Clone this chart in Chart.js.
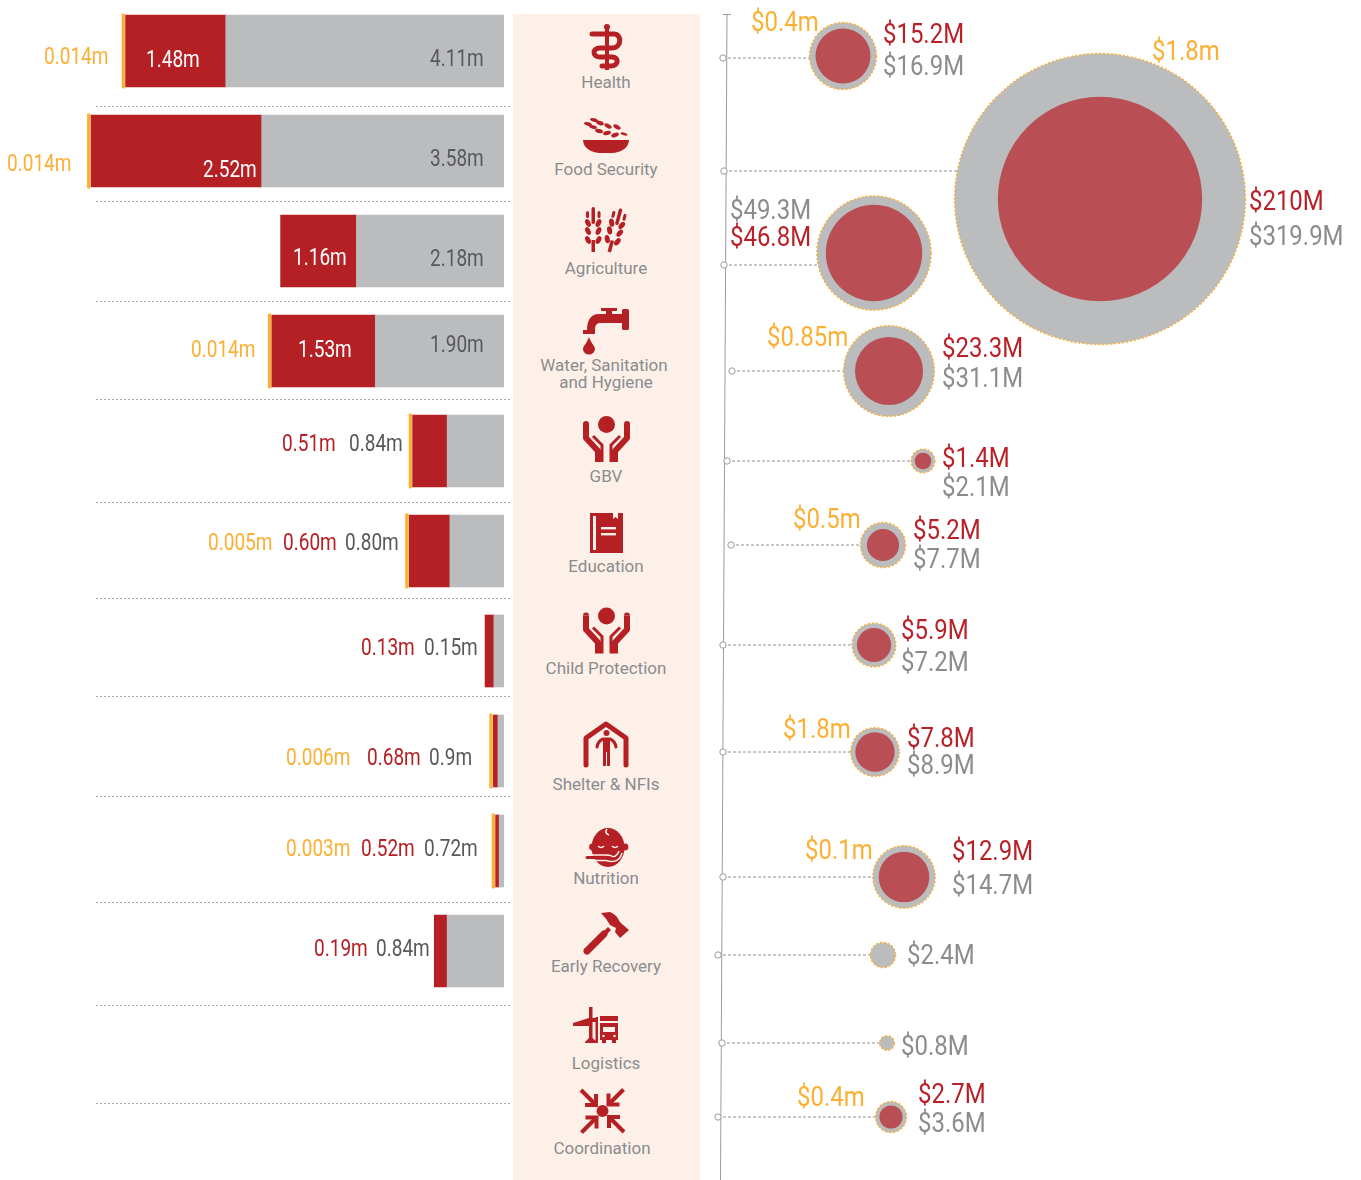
<!DOCTYPE html>
<html lang="en">
<head>
<meta charset="UTF-8">
<title>Sector funding and people reached</title>
<style>
    html, body { margin: 0; padding: 0; background: #fff; overflow: hidden; }
    #page { position: relative; width: 1361px; height: 1180px; }
    #page canvas { position: absolute; left: 0; top: 0; }
    #panel { position: absolute; left: 0; top: 0; }
    #panel text { font-family: Roboto, sans-serif; font-size: 17px; fill: #8a8c8e; text-anchor: middle; }
</style>
</head>
<body>
<div id="page">
    <svg id="panel" width="1361" height="1180" viewBox="0 0 1361 1180">
        <rect x="513" y="14" width="187" height="1166" fill="#fdf0e9"/>
        <defs>
            <g id="hands">
                <path d="M586 424V438L598 451V462" fill="none" stroke="#b52025" stroke-width="6" stroke-linejoin="round"/>
                <path d="M593 436L602 445V462" fill="none" stroke="#b52025" stroke-width="3"/>
                <path d="M586 421a3 3 0 0 1 3 3h-6a3 3 0 0 1 3-3z" fill="#b52025"/>
            </g>
            <g id="wheat" fill="#b52025">
                <rect x="591.5" y="207" width="3.5" height="17" rx="1.7"/>
                <rect x="591.5" y="240" width="3.5" height="12"/>
                <rect x="586" y="211" width="3" height="7" rx="1.5"/>
                <rect x="597.5" y="211" width="3" height="7" rx="1.5"/>
                <ellipse cx="588" cy="223" rx="2.5" ry="4.2" transform="rotate(-25 588 223)"/>
                <ellipse cx="598.5" cy="223" rx="2.5" ry="4.2" transform="rotate(25 598.5 223)"/>
                <ellipse cx="588" cy="231" rx="2.5" ry="4.2" transform="rotate(-25 588 231)"/>
                <ellipse cx="598.5" cy="231" rx="2.5" ry="4.2" transform="rotate(25 598.5 231)"/>
                <ellipse cx="588" cy="240" rx="2.5" ry="4.2" transform="rotate(-25 588 240)"/>
                <ellipse cx="598.5" cy="240" rx="2.5" ry="4.2" transform="rotate(25 598.5 240)"/>
            </g>
            <g id="arrow" fill="none" stroke="#b52025" stroke-width="4">
                <path d="M581 1090L594 1103"/>
                <path d="M596 1094V1105H585"/>
            </g>
        </defs>

        <!-- health -->
        <g>
            <rect x="605" y="27" width="4" height="43" fill="#b52025"/>
            <circle cx="607" cy="27" r="3" fill="#b52025"/>
            <path d="M592 34H614C622 34 622 48 612 48H600C592 48 592 57 600 57H612C619 57 619 66 611 66H602" fill="none" stroke="#b52025" stroke-width="5" stroke-linecap="round"/>
        </g>
        <!-- food security -->
        <g fill="#b52025">
            <path d="M583 140H629C629 148 620 153 612 153H600C592 153 583 148 583 140Z"/>
            <ellipse cx="588" cy="124" rx="4" ry="1.7" transform="rotate(15 588 124)"/>
            <ellipse cx="593" cy="127" rx="4" ry="1.7" transform="rotate(15 593 127)"/>
            <ellipse cx="594" cy="120" rx="4" ry="1.7" transform="rotate(15 594 120)"/>
            <ellipse cx="600" cy="123" rx="4" ry="2" transform="rotate(20 600 123)"/>
            <ellipse cx="608" cy="126" rx="4" ry="2" transform="rotate(30 608 126)"/>
            <ellipse cx="617" cy="127" rx="4" ry="2" transform="rotate(30 617 127)"/>
            <ellipse cx="599" cy="131" rx="4" ry="2" transform="rotate(15 599 131)"/>
            <ellipse cx="607" cy="133" rx="4" ry="2" transform="rotate(-15 607 133)"/>
            <ellipse cx="615" cy="135" rx="4" ry="2" transform="rotate(-20 615 135)"/>
            <ellipse cx="624" cy="134" rx="3.5" ry="1.4" transform="rotate(15 624 134)"/>
        </g>
        <!-- agriculture -->
        <use href="#wheat"/>
        <use href="#wheat" transform="translate(16,0) rotate(15 593 252)"/>
        <!-- water -->
        <g fill="#b52025">
            <rect x="622" y="309" width="7" height="21" rx="1.5"/>
            <rect x="601" y="308" width="16" height="3"/>
            <rect x="606" y="308" width="6" height="8"/>
            <path d="M622 314H599C591 314 587 320 587 330H595C595 325 597 323 600 323H622Z"/>
            <rect x="583" y="330" width="12" height="4"/>
            <path d="M589 337C587 343 583 346 583 349A6 5.5 0 0 0 595 349C595 346 591 343 589 337Z"/>
        </g>
        <!-- gbv -->
        <circle cx="606.5" cy="424.5" r="8.5" fill="#b52025"/>
        <use href="#hands"/>
        <use href="#hands" transform="translate(1213,0) scale(-1,1)"/>
        <!-- education -->
        <g>
            <rect x="590" y="513" width="33" height="40" fill="#b52025"/>
            <rect x="593" y="516" width="3" height="34" fill="#fdf0e9"/>
            <rect x="601" y="527" width="15" height="2.4" fill="#fdf0e9"/>
            <rect x="601" y="533" width="15" height="2.4" fill="#fdf0e9"/>
            <path d="M613 513V519L615.5 517L618 519V513Z" fill="#fdf0e9"/>
        </g>
        <!-- child protection -->
        <circle cx="606.5" cy="616" r="8.5" fill="#b52025"/>
        <use href="#hands" transform="translate(0,191.5)"/>
        <use href="#hands" transform="translate(1213,191.5) scale(-1,1)"/>
        <!-- shelter -->
        <g>
            <path d="M586 765V738L606 724L626 738V765" fill="none" stroke="#b52025" stroke-width="5" stroke-linecap="round" stroke-linejoin="round"/>
            <circle cx="606.5" cy="733" r="3" fill="#b52025"/>
            <path d="M597 747Q598 741 603 739H610Q615 741 616 747" fill="none" stroke="#b52025" stroke-width="3" stroke-linecap="round"/>
            <rect x="603" y="739" width="3" height="27" fill="#b52025"/>
            <rect x="607" y="739" width="3" height="27" fill="#b52025"/>
            <rect x="603" y="739" width="7" height="13" fill="#b52025"/>
        </g>
        <!-- nutrition -->
        <g>
            <ellipse cx="608" cy="847.5" rx="16.5" ry="19.5" fill="#b52025"/>
            <circle cx="592.5" cy="847" r="3.4" fill="#b52025"/>
            <circle cx="625" cy="847" r="3.4" fill="#b52025"/>
            <path d="M607 829Q604 833 609 835" fill="none" stroke="#fdf0e9" stroke-width="1.5"/>
            <path d="M598 846Q601 849 604 846M612 846Q615 849 618 846" fill="none" stroke="#fdf0e9" stroke-width="1.6"/>
            <path d="M586 855H606Q611 855 613 857Q617 856 619 851" fill="none" stroke="#fdf0e9" stroke-width="1.5"/>
            <path d="M586 860.5H606Q611 862 615 861Q620 860 622 853" fill="none" stroke="#fdf0e9" stroke-width="1.5"/>
            <path d="M587 857.5H606Q611 858 614 859" fill="none" stroke="#b52025" stroke-width="3" stroke-linecap="round"/>
        </g>
        <!-- early recovery -->
        <g fill="#b52025">
            <path d="M587 951L604 934" stroke="#b52025" stroke-width="7" stroke-linecap="round"/>
            <path d="M603 932L608 927L611 930L606 935Z"/>
            <path d="M601 913L610 912Q616 914 620 922L622 924L629 930L620 938L615 932L616 928L610 925Q606 918 601 913Z"/>
        </g>
        <!-- logistics -->
        <g fill="#b52025">
            <path d="M589 1007H592.5V1018H596V1022H592.5V1038L597 1042V1043H585V1042L589 1038V1026L573 1026V1023L589 1018Z"/>
            <rect x="595.5" y="1017" width="2.5" height="26"/>
            <rect x="600" y="1016" width="18" height="5"/>
            <path d="M600 1023H618V1040H616V1043H612V1040H606V1043H602V1040H600Z"/>
            <rect x="603" y="1027" width="12" height="5" fill="#fdf0e9"/>
            <circle cx="603.5" cy="1036" r="1.2" fill="#fdf0e9"/>
            <circle cx="614.5" cy="1036" r="1.2" fill="#fdf0e9"/>
        </g>
        <!-- coordination -->
        <circle cx="602.5" cy="1111" r="6" fill="#b52025"/>
        <use href="#arrow"/>
        <use href="#arrow" transform="rotate(90 602.5 1111)"/>
        <use href="#arrow" transform="rotate(180 602.5 1111)"/>
        <use href="#arrow" transform="rotate(270 602.5 1111)"/>

        <text x="606" y="88">Health</text>
        <text x="606" y="175">Food Security</text>
        <text x="606" y="274">Agriculture</text>
        <text x="604" y="371">Water, Sanitation</text>
        <text x="606" y="388">and Hygiene</text>
        <text x="606" y="482">GBV</text>
        <text x="606" y="572">Education</text>
        <text x="606" y="674">Child Protection</text>
        <text x="606" y="790">Shelter &amp; NFIs</text>
        <text x="606" y="884">Nutrition</text>
        <text x="606" y="972">Early Recovery</text>
        <text x="606" y="1069">Logistics</text>
        <text x="602" y="1154">Coordination</text>
    </svg>
    <canvas id="barChart" width="1361" height="1180"></canvas>
    <canvas id="bubbleChart" width="1361" height="1180"></canvas>
</div>

<script src="https://cdn.jsdelivr.net/npm/chart.js"></script>
<script>
    // bars: people in millions, ten sectors have people data
    var barSectors = ['Health', 'Food Security', 'Agriculture', 'Water, Sanitation and Hygiene', 'GBV',
        'Education', 'Child Protection', 'Shelter & NFIs', 'Nutrition', 'Early Recovery'];
    var peopleTarget = [4.11, 3.58, 2.18, 1.90, 0.84, 0.80, 0.15, 0.09, 0.072, 0.84];
    // lengths as drawn in the picture, which do not always agree with the printed labels
    var peopleReached = [1.48, 2.52, 1.12, 1.53, 0.51, 0.60, 0.13, 0.068, 0.052, 0.19];
    var peopleOther = [0.014, 0.014, null, 0.014, 0.005, 0.005, null, 0.006, 0.003, null];

    var targetText = ['4.11m', '3.58m', '2.18m', '1.90m', '0.84m', '0.80m', '0.15m', '0.9m', '0.72m', '0.84m'];
    var reachedText = ['1.48m', '2.52m', '1.16m', '1.53m', '0.51m', '0.60m', '0.13m', '0.68m', '0.52m', '0.19m'];
    var otherText = ['0.014m', '0.014m', null, '0.014m', null, '0.005m', null, '0.006m', '0.003m', null];

    // bubbles: funding in $ millions, twelve sectors
    var fundRequired = [16.9, 319.9, 49.3, 31.1, 2.1, 7.7, 7.2, 8.9, 14.7, 2.4, 0.8, 3.6];
    var fundReceived = [15.2, 210, 46.8, 23.3, 1.4, 5.2, 5.9, 7.8, 12.9, null, null, 2.7];
    var fundOther = [0.4, 1.8, null, 0.85, null, 0.5, null, 1.8, 0.1, null, null, 0.4];

    // where each bubble and its stem marker sit on the free-form timeline
    var bubbleX = [843, 1100, 874, 889, 923, 883, 874, 875, 904, 883, 887, 891];
    var bubbleY = [56, 199, 253, 371, 461, 545, 645, 752, 877, 955, 1043, 1117];
    var stemX = [723, 724, 724, 732, 727, 731, 723, 723, 723, 718, 722, 718];
    var stemY = [58, 171, 265, 371, 461, 545, 645, 752, 877, 955, 1043, 1117];

    var RED = '#b52025', GREY = '#bbbcbe', GOLD = '#fbb034';
    var LABEL_FONT = 'Roboto, sans-serif';

    // text layout, [left x, middle y] in page pixels
    var otherSpots = [[44, 58], [7, 165], null, [191, 351], null, [208, 544], null, [286, 759], [286, 850], null];
    var reachedSpots = [[146, 61], [203, 171], [293, 259], [298, 351], [282, 445], [283, 544], [361, 649], [367, 759], [361, 850], [314, 950]];
    var targetSpots = [[430, 60], [430, 160], [430, 260], [430, 346], [349, 445], [345, 544], [424, 649], [429, 759], [424, 850], [376, 950]];
    var fundOtherSpots = [[751, 24], [1152, 53], null, [767, 339], null, [793, 521], null, [783, 731], [805, 852], null, null, [797, 1099]];
    var fundReceivedSpots = [[883, 36], [1249, 203], [730, 239], [942, 350], [942, 460], [913, 532], [901, 632], [907, 740], [952, 853], null, null, [918, 1096]];
    var fundRequiredSpots = [[883, 68], [1249, 238], [730, 212], [942, 380], [942, 489], [913, 561], [901, 664], [907, 767], [952, 887], [907, 957], [901, 1048], [918, 1125]];

    var separatorY = [106, 201, 301, 399, 502, 598, 696, 796, 902, 1005, 1103];

    // the original type is a narrow face, so Roboto gets squeezed horizontally
    function drawLabels(ctx, texts, spots, color, size, squeeze) {
        ctx.save();
        ctx.font = size + 'px ' + LABEL_FONT;
        ctx.textBaseline = 'middle';
        ctx.textAlign = 'left';
        for (var i = 0; i < texts.length; i++) {
            if (texts[i] === null || !spots[i]) continue;
            ctx.save();
            ctx.translate(spots[i][0], spots[i][1]);
            ctx.scale(squeeze, 1);
            ctx.fillStyle = typeof color === 'function' ? color(i) : color;
            ctx.fillText(texts[i], 0, 0);
            ctx.restore();
        }
        ctx.restore();
    }

    var barLabels = {
        id: 'barLabels',
        beforeDatasetsDraw: function(chart) {
            var ctx = chart.ctx;
            ctx.save();
            ctx.strokeStyle = '#a7a9ac';
            ctx.lineWidth = 1;
            ctx.setLineDash([2, 2]);
            separatorY.forEach(function(y) {
                ctx.beginPath();
                ctx.moveTo(96, y + 0.5);
                ctx.lineTo(512, y + 0.5);
                ctx.stroke();
            });
            ctx.restore();
        },
        afterDraw: function(chart) {
            var ctx = chart.ctx;
            drawLabels(ctx, otherText, otherSpots, GOLD, 23.5, 0.81);
            drawLabels(ctx, reachedText, reachedSpots, function(i) { return i < 4 ? '#ffffff' : RED; }, 23.5, 0.81);
            drawLabels(ctx, targetText, targetSpots, '#58595b', 23.5, 0.81);
        }
    };

    new Chart(document.getElementById('barChart'), {
        type: 'bar',
        plugins: [barLabels],
        data: {
            labels: barSectors,
            datasets: [
                { label: 'Target', data: peopleTarget, backgroundColor: GREY, barThickness: 72 },
                { label: 'Reached', data: peopleReached, backgroundColor: RED, barThickness: 72 },
                {
                    label: 'Other', data: peopleOther, backgroundColor: GOLD, barThickness: 75, minBarLength: 4,
                    borderColor: '#ffffff', borderWidth: { top: 0, right: 1, bottom: 0, left: 0 }, borderSkipped: false
                }
            ]
        },
        options: {
            indexAxis: 'y',
            responsive: false,
            animation: false,
            layout: { padding: { left: 0, right: 857, top: 1, bottom: 179 } },
            plugins: { legend: { display: false }, tooltip: { enabled: false } },
            scales: {
                x: { display: false, stacked: true, reverse: true, min: 0, max: 7.445 },
                y: { display: false, stacked: true }
            }
        }
    });

    function money(values, unit) {
        return values.map(function(v) { return v === null ? null : '$' + v + unit; });
    }

    function bubblePoints(values, k) {
        var out = [];
        values.forEach(function(v, i) {
            if (v !== null) out.push({ x: bubbleX[i], y: bubbleY[i], r: k * Math.sqrt(v) });
        });
        return out;
    }

    var connectorPoints = [];
    stemX.forEach(function(x, i) {
        connectorPoints.push({ x: x, y: stemY[i] }, { x: bubbleX[i], y: stemY[i] }, { x: NaN, y: NaN });
    });
    var markerPoints = stemX.map(function(x, i) { return { x: x, y: stemY[i] }; });

    var bubbleExtras = {
        id: 'bubbleExtras',
        beforeDatasetDraw: function(chart, args) {
            if (chart.data.datasets[args.index].dotted) {
                chart.ctx.save();
                chart.ctx.setLineDash([2, 2]);
            }
        },
        afterDatasetDraw: function(chart, args) {
            if (chart.data.datasets[args.index].dotted) chart.ctx.restore();
        },
        afterDraw: function(chart) {
            var ctx = chart.ctx;
            drawLabels(ctx, money(fundOther, 'm'), fundOtherSpots, GOLD, 28, 0.855);
            drawLabels(ctx, money(fundReceived, 'M'), fundReceivedSpots, '#b92128', 28, 0.855);
            drawLabels(ctx, money(fundRequired, 'M'), fundRequiredSpots, '#8a8c8e', 28, 0.855);
        }
    };

    new Chart(document.getElementById('bubbleChart'), {
        type: 'bubble',
        plugins: [bubbleExtras],
        data: {
            datasets: [
                { label: 'Received', data: bubblePoints(fundReceived, 7.05), backgroundColor: '#b94f55', borderWidth: 0, clip: false },
                { label: 'Required', data: bubblePoints(fundRequired, 8.13), backgroundColor: GREY, borderColor: GOLD, borderWidth: 1.5, dotted: true, clip: false },
                {
                    type: 'scatter', label: 'Markers', data: markerPoints, pointRadius: 3.2,
                    pointBackgroundColor: '#ffffff', pointBorderColor: '#9a9b9d', pointBorderWidth: 1
                },
                {
                    type: 'line', label: 'Connectors', data: connectorPoints, pointRadius: 0,
                    borderColor: '#8f9092', borderWidth: 1, borderDash: [3, 2], spanGaps: false
                },
                {
                    type: 'line', label: 'Stem', pointRadius: 0, borderColor: '#9a9b9d', borderWidth: 1, spanGaps: false,
                    data: [{ x: 723, y: 14.5 }, { x: 731, y: 14.5 }, { x: NaN, y: NaN }, { x: 727, y: 14.5 }, { x: 720.5, y: 1180 }]
                }
            ]
        },
        options: {
            responsive: false,
            animation: false,
            layout: { autoPadding: false },
            plugins: { legend: { display: false }, tooltip: { enabled: false } },
            scales: {
                x: { display: false, type: 'linear', min: 0, max: 1361 },
                y: { display: false, type: 'linear', reverse: true, min: 0, max: 1180 }
            }
        }
    });
</script>
</body>
</html>
